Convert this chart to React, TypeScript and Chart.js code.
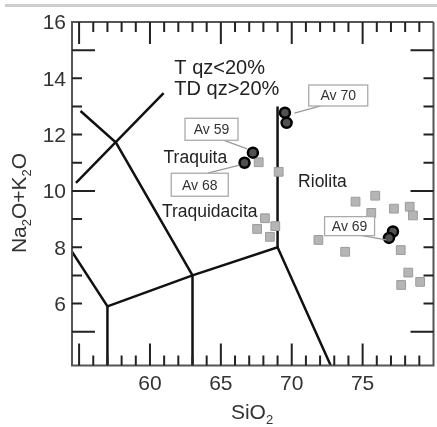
import { useEffect, useRef } from "react";
import { Chart, registerables } from "chart.js";

Chart.register(...registerables);

// ---- axis ranges and tick labels ----
const X_MIN = 54.5;
const X_MAX = 80;
const Y_MIN = 3.8;
const Y_MAX = 16;
const xTickLabels = [60, 65, 70, 75];
const yTickLabels = [6, 8, 10, 12, 14, 16];
const xMinorFrom = 55;
const xMinorTo = 79;
const yMinorFrom = 5;
const yMinorTo = 15;

// ---- averages (black circles) ----
const avSiO2 = [67.26, 66.67, 69.52, 69.64, 77.14, 76.86];
const avAlk = [11.36, 11.0, 12.78, 12.42, 8.56, 8.33];

// ---- samples (grey squares) ----
const sampleSiO2 = [
  67.67, 69.08, 68.11, 67.56, 68.84, 68.46, 71.88, 73.77, 74.5, 75.89, 75.61,
  77.21, 78.32, 78.55, 77.69, 78.22, 77.72, 79.06,
];
const sampleAlk = [
  11.02, 10.68, 9.03, 8.65, 8.75, 8.37, 8.26, 7.84, 9.62, 9.83, 9.22, 9.37,
  9.44, 9.13, 7.9, 7.1, 6.66, 6.77,
];

// ---- field boundaries (SiO2, Na2O+K2O) ----
const boundaryA = [[54.5, 7.84], [57, 5.9], [57, 3.8]];
const boundaryB = [[57, 5.9], [63, 7], [69, 8], [72.75, 3.8]];
const boundaryC = [[63, 7], [63, 3.8]];
const boundaryD = [[69, 8], [69, 13]];
const boundaryE = [[55.1, 12.84], [57.6, 11.72], [63, 7]];
const boundaryF = [[54.78, 10.29], [60.96, 13.47]];

// ---- annotations ----
const avNames = ["Av 59", "Av 68", "Av 70", "Av 69"];
const avBoxX = [64.34, 63.51, 73.28, 74.08];
const avBoxY = [12.19, 10.22, 13.39, 8.75];
const leaderFromX = [65.13, 64.08, 72.05, 74.78];
const leaderFromY = [11.81, 10.63, 13.02, 8.43];
const leaderToX = [66.86, 66.31, 70.19, 76.65];
const leaderToY = [11.49, 10.92, 12.76, 8.26];

const fieldNames = ["Traquita", "Traquidacita", "Riolita"];
const fieldX = [60.96, 60.84, 70.45];
const fieldY = [10.99, 9.08, 10.13];

const qzNotes = ["T qz<20%", "TD qz>20%"];
const qzX = [61.72, 61.72];
const qzY = [14.15, 13.41];

// ---- styles ----
const FONT = '"Liberation Sans", Arial, Helvetica, sans-serif';
const boxW = [53, 57, 59, 50];
const boxH = [22, 23, 21, 19];

const toPts = (xs: number[], ys: number[]) => xs.map((x, i) => ({ x, y: ys[i] }));
const pairPts = (arr: number[][]) => arr.map(([x, y]) => ({ x, y }));

const decor = {
  id: "decor",
  afterDatasetsDraw(chart: any) {
    const { ctx, chartArea: a } = chart;
    const xs = chart.scales.x;
    const ys = chart.scales.y;
    const px = (v: number) => xs.getPixelForValue(v);
    const py = (v: number) => ys.getPixelForValue(v);
    ctx.save();

    // page rule at top
    ctx.fillStyle = "#cdcdcd";
    ctx.fillRect(5, 4, chart.width, 3);

    // frame
    ctx.strokeStyle = "#555";
    ctx.lineWidth = 2;
    ctx.beginPath();
    ctx.moveTo(a.right, a.top);
    ctx.lineTo(a.left, a.top);
    ctx.lineTo(a.left, a.bottom);
    ctx.lineTo(a.right, a.bottom);
    ctx.lineTo(a.right, a.top);
    ctx.stroke();

    // ticks (inward)
    ctx.strokeStyle = "#222";
    ctx.lineWidth = 2;
    ctx.beginPath();
    for (let v = xMinorFrom; v <= xMinorTo; v++) {
      const len = v % 5 === 0 ? 22 : 10;
      const X = px(v);
      ctx.moveTo(X, a.bottom);
      ctx.lineTo(X, a.bottom - len);
      ctx.moveTo(X, a.top);
      ctx.lineTo(X, a.top + len);
    }
    for (let v = yMinorFrom; v <= yMinorTo; v++) {
      const len = v % 5 === 0 ? 23 : 10;
      const Y = py(v);
      ctx.moveTo(a.left, Y);
      ctx.lineTo(a.left + len, Y);
      ctx.moveTo(a.right, Y);
      ctx.lineTo(a.right - len, Y);
    }
    ctx.stroke();

    // tick labels
    ctx.fillStyle = "#333";
    ctx.font = `21px ${FONT}`;
    ctx.textBaseline = "alphabetic";
    ctx.textAlign = "right";
    yTickLabels.forEach((v) => ctx.fillText(String(v), a.left - 6, py(v) + 7.4));
    ctx.textAlign = "center";
    xTickLabels.forEach((v) => ctx.fillText(String(v), px(v), a.bottom + 24));

    // axis titles with subscripts
    const drawParts = (parts: [string, boolean][], big: number, small: number) => {
      let w = 0;
      parts.forEach(([t, sub]) => {
        ctx.font = `${sub ? small : big}px ${FONT}`;
        w += ctx.measureText(t).width;
      });
      let cx = -w / 2;
      ctx.textAlign = "left";
      parts.forEach(([t, sub]) => {
        ctx.font = `${sub ? small : big}px ${FONT}`;
        ctx.fillText(t, cx, sub ? 5 : 0);
        cx += ctx.measureText(t).width;
      });
    };
    ctx.fillStyle = "#333";
    ctx.save();
    ctx.translate(a.left + 180, a.bottom + 53);
    drawParts([["SiO", false], ["2", true]], 21, 13);
    ctx.restore();
    ctx.save();
    ctx.translate(26, 203);
    ctx.rotate(-Math.PI / 2);
    drawParts(
      [["Na", false], ["2", true], ["O+K", false], ["2", true], ["O", false]],
      21,
      13
    );
    ctx.restore();

    // qz notes
    ctx.fillStyle = "#222";
    ctx.font = `20px ${FONT}`;
    ctx.textAlign = "left";
    qzNotes.forEach((t, i) => ctx.fillText(t, px(qzX[i]), py(qzY[i])));

    // field names
    ctx.font = `17.5px ${FONT}`;
    fieldNames.forEach((t, i) => ctx.fillText(t, px(fieldX[i]), py(fieldY[i])));

    // leader lines
    ctx.strokeStyle = "#9a9a9a";
    ctx.lineWidth = 1.3;
    ctx.beginPath();
    avNames.forEach((_, i) => {
      ctx.moveTo(px(leaderFromX[i]), py(leaderFromY[i]));
      ctx.lineTo(px(leaderToX[i]), py(leaderToY[i]));
    });
    ctx.stroke();

    // label boxes
    avNames.forEach((t, i) => {
      const cx = px(avBoxX[i]);
      const cy = py(avBoxY[i]);
      const w = boxW[i];
      const h = boxH[i];
      ctx.fillStyle = "#fff";
      ctx.fillRect(cx - w / 2, cy - h / 2, w, h);
      ctx.strokeStyle = "#aaa";
      ctx.lineWidth = 1.3;
      ctx.strokeRect(cx - w / 2, cy - h / 2, w, h);
      ctx.fillStyle = "#333";
      ctx.font = `14px ${FONT}`;
      ctx.textAlign = "center";
      ctx.fillText(t, cx, cy + 5);
    });

    ctx.restore();
  },
};

export default function App() {
  const ref = useRef<HTMLCanvasElement | null>(null);

  useEffect(() => {
    if (!ref.current) return;
    const lineDs = (pts: number[][]) => ({
      data: pairPts(pts),
      showLine: true,
      pointRadius: 0,
      borderColor: "#111",
      borderWidth: 2.5,
      fill: false,
      tension: 0,
      order: 3,
    });
    const chart = new Chart(ref.current, {
      type: "scatter",
      data: {
        datasets: [
          {
            data: toPts(avSiO2, avAlk),
            pointStyle: "circle",
            pointRadius: 5,
            pointBackgroundColor: "#505050",
            pointBorderColor: "#000",
            pointBorderWidth: 2.5,
            order: 1,
          },
          {
            data: toPts(sampleSiO2, sampleAlk),
            pointStyle: "rect",
            pointRadius: 6.2,
            pointBackgroundColor: "#b5b5b5",
            pointBorderColor: "#9c9c9c",
            pointBorderWidth: 1,
            order: 2,
          },
          lineDs(boundaryA),
          lineDs(boundaryB),
          lineDs(boundaryC),
          lineDs(boundaryD),
          lineDs(boundaryE),
          lineDs(boundaryF),
        ] as any,
      },
      options: {
        animation: false,
        responsive: false,
        devicePixelRatio: 1,
        events: [],
        layout: { padding: { left: 72, top: 22, right: 2, bottom: 61.5 } },
        plugins: { legend: { display: false }, tooltip: { enabled: false } },
        scales: {
          x: { type: "linear", min: X_MIN, max: X_MAX, display: false },
          y: { type: "linear", min: Y_MIN, max: Y_MAX, display: false },
        },
      },
      plugins: [decor],
    });
    return () => chart.destroy();
  }, []);

  return (
    <div
      style={{
        position: "fixed",
        left: 0,
        top: 0,
        width: 437,
        height: 427,
        overflow: "hidden",
        background: "#fff",
      }}
    >
      <canvas ref={ref} width={441} height={427} style={{ display: "block" }} />
    </div>
  );
}
